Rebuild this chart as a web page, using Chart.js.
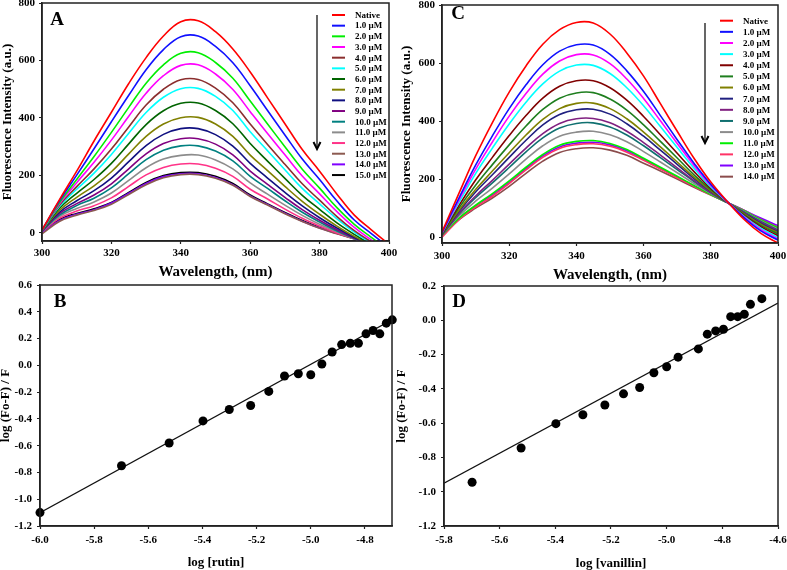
<!DOCTYPE html>
<html>
<head>
<meta charset="utf-8">
<script src="https://cdn.jsdelivr.net/npm/chart.js@4.4.1/dist/chart.umd.min.js"></script>
<style>
  html, body { margin: 0; padding: 0; background: #fff; overflow: hidden; }
  body { width: 787px; height: 570px; position: relative; }
  canvas { position: absolute; }
</style>
</head>
<body>
<canvas id="chartA" width="410" height="300" style="left:0px;top:-10px"></canvas>
<canvas id="chartC" width="400" height="300" style="left:399px;top:-10px"></canvas>
<canvas id="chartB" width="420" height="310" style="left:-2px;top:270px"></canvas>
<canvas id="chartD" width="410" height="310" style="left:394px;top:271px"></canvas>
<script>
// wavelength grid (nm) shared by both spectra panels
const wavelengths = [300,305,310,315,320,325,330,335,340,345,350,355,360,365,370,375,380,385,390,395,400];

// panel A : rutin quenching spectra
const labelsA = ['Native','1.0 \u00b5M','2.0 \u00b5M','3.0 \u00b5M','4.0 \u00b5M','5.0 \u00b5M','6.0 \u00b5M','7.0 \u00b5M',
                 '8.0 \u00b5M','9.0 \u00b5M','10.0 \u00b5M','11.0 \u00b5M','12.0 \u00b5M','13.0 \u00b5M','14.0 \u00b5M','15.0 \u00b5M'];
const A_native = [10,115,215,320,420,520,610,685,735,738,700,640,560,470,380,290,215,135,62,10,-40];
const A_1uM  = [10,111,201,293,387,479,568,638,683,685,649,592,512,426,341,257,186,111,45,-3,-51];
const A_2uM  = [10,105,186,266,350,437,521,585,625,627,593,538,459,379,300,222,156,88,30,-16,-61];
const A_3uM  = [10,101,175,246,323,406,486,547,583,585,553,499,422,346,272,198,136,74,19,-25,-66];
const A_4uM  = [10,96,161,223,292,369,445,500,533,534,504,453,379,308,239,171,114,57,8,-32,-71];
const A_5uM  = [9,92,152,208,273,347,419,472,502,503,475,426,352,286,220,155,101,49,3,-36,-73];
const A_6uM  = [9,85,138,186,242,310,377,425,451,452,426,380,311,250,190,131,82,35,-5,-41,-75];
const A_7uM  = [8,78,124,164,213,275,336,379,401,402,379,336,271,217,162,110,65,24,-12,-44,-75];
const A_8uM  = [8,72,112,147,191,248,304,343,363,363,342,302,242,191,141,94,53,17,-15,-45,-73];
const A_9uM  = [7,67,102,132,171,223,275,311,328,328,309,272,215,169,124,81,44,11,-18,-45,-71];
const A_10uM = [7,62,95,121,157,206,255,288,303,303,285,251,197,155,112,72,38,7,-19,-44,-68];
const A_11uM = [6,57,85,108,139,183,227,257,270,271,254,223,174,135,97,61,30,4,-20,-43,-64];
const A_12uM = [6,51,76,95,122,162,202,228,240,240,225,197,152,118,83,51,24,0,-20,-41,-60];
const A_13uM = [-3,40,62,78,100,134,168,192,203,203,190,166,127,97,67,40,16,-3,-21,-38,-54];
const A_14uM = [2,43,65,81,104,138,172,196,206,206,193,168,129,99,69,41,17,-2,-20,-37,-54];
const A_15uM = [5,47,68,84,106,141,176,200,210,210,197,172,132,101,71,43,19,-1,-19,-36,-54];
const seriesA = [A_native,A_1uM,A_2uM,A_3uM,A_4uM,A_5uM,A_6uM,A_7uM,A_8uM,A_9uM,A_10uM,A_11uM,A_12uM,A_13uM,A_14uM,A_15uM];

// panel C : vanillin quenching spectra
const labelsC = ['Native','1.0 \u00b5M','2.0 \u00b5M','3.0 \u00b5M','4.0 \u00b5M','5.0 \u00b5M','6.0 \u00b5M','7.0 \u00b5M',
                 '8.0 \u00b5M','9.0 \u00b5M','10.0 \u00b5M','11.0 \u00b5M','12.0 \u00b5M','13.0 \u00b5M','14.0 \u00b5M'];
const C_native = [18,150,280,395,500,590,665,715,740,738,700,635,555,460,365,272,190,122,60,12,-20];
const C_1uM  = [16,134,248,349,443,525,594,641,663,662,630,573,502,419,336,255,182,122,66,21,-10];
const C_2uM  = [15,127,234,328,417,495,562,607,629,628,598,545,478,401,323,247,178,121,68,25,-6];
const C_3uM  = [14,119,219,307,390,465,528,572,593,592,564,515,453,381,309,238,173,121,71,30,-1];
const C_4uM  = [12,108,197,275,350,419,479,520,539,539,515,472,416,353,289,226,168,120,74,35,5];
const C_5uM  = [11,100,179,250,318,383,440,479,497,498,476,438,387,330,273,215,164,120,77,40,11];
const C_6uM  = [10,92,164,228,291,352,406,443,461,462,443,408,362,311,259,207,160,120,80,44,15];
const C_7uM  = [9,88,156,215,275,334,387,423,439,441,424,391,348,300,251,202,158,119,82,47,18];
const C_8uM  = [8,81,142,196,252,307,357,392,408,409,394,365,326,283,239,195,154,119,84,51,22];
const C_9uM  = [8,78,136,187,240,294,342,376,392,394,380,352,315,274,233,192,153,119,86,53,24];
const C_10uM = [7,72,124,169,218,269,315,348,362,365,353,329,295,259,222,185,150,119,88,56,28];
const C_11uM = [6,65,110,150,194,241,285,317,330,333,323,302,272,241,210,178,147,119,90,59,32];
const C_12uM = [0,60,104,141,185,232,275,306,319,322,313,293,265,235,205,175,146,119,91,60,33];
const C_13uM = [6,64,108,146,189,236,280,311,324,327,318,298,268,238,207,176,147,119,92,65,40];
const C_14uM = [5,60,100,135,175,220,262,292,305,308,300,282,255,228,200,172,145,119,92,62,35];
const seriesC = [C_native,C_1uM,C_2uM,C_3uM,C_4uM,C_5uM,C_6uM,C_7uM,C_8uM,C_9uM,C_10uM,C_11uM,C_12uM,C_13uM,C_14uM];

// panel B : double log plot, rutin
const logRutin    = [-6.0,-5.699,-5.523,-5.398,-5.301,-5.222,-5.155,-5.097,-5.046,-5.0,-4.959,-4.921,-4.886,-4.854,-4.824,-4.796,-4.770,-4.745,-4.721,-4.699];
const quenchRutin = [-1.10,-0.75,-0.58,-0.415,-0.33,-0.30,-0.195,-0.08,-0.063,-0.07,0.01,0.10,0.155,0.165,0.165,0.235,0.26,0.235,0.315,0.34];
const fitRutinX = [-6.0,-4.70];
const fitRutinY = [-1.10,0.34];

// panel D : double log plot, vanillin
const logVanillin    = [-5.699,-5.523,-5.398,-5.301,-5.222,-5.155,-5.097,-5.046,-5.0,-4.959,-4.886,-4.854,-4.824,-4.796,-4.770,-4.745,-4.721,-4.699,-4.658];
const quenchVanillin = [-0.945,-0.745,-0.603,-0.551,-0.494,-0.429,-0.392,-0.306,-0.271,-0.215,-0.167,-0.081,-0.062,-0.052,0.021,0.021,0.035,0.093,0.126];
const fitVanillinX = [-5.8,-4.6];
const fitVanillinY = [-0.95,0.10];

// tick labels
const ticksWave = [300,320,340,360,380,400];
const ticksIntensity = [0,200,400,600,800];
const ticksRutinX = [-6.0,-5.8,-5.6,-5.4,-5.2,-5.0,-4.8];
const ticksRutinY = [-1.2,-1.0,-0.8,-0.6,-0.4,-0.2,0.0,0.2,0.4,0.6];
const ticksVanX = [-5.8,-5.6,-5.4,-5.2,-5.0,-4.8,-4.6];
const ticksVanY = [-1.2,-1.0,-0.8,-0.6,-0.4,-0.2,0.0,0.2];

const colorsA = ['#ff0000','#1010ff','#00ee00','#ff00ff','#8b2e2e','#00ffff','#006400','#808000',
                 '#101080','#800080','#008080','#8c8c8c','#ff3388','#8c5a50','#8000ff','#000000'];
const colorsC = ['#ff0000','#1010ff','#ff00ff','#00ffff','#800000','#1e7e1e','#808000','#202080',
                 '#802080','#107070','#8c8c8c','#00ee00','#ff3366','#8000ff','#8b4c4c'];

const serif = 'Liberation Serif, Times New Roman, serif';

function toPoints(xs, ys) {
    return xs.map((x, i) => ({ x: x, y: ys[i] }));
}

function makeScale(min, max, tickVals, decimals, titleText, titleSize, titlePad, tickPad, fitSize, isX) {
    return {
        type: 'linear',
        min: min,
        max: max,
        afterBuildTicks: s => { s.ticks = tickVals.map(v => ({ value: v })); },
        afterFit: s => { if (isX) s.height = fitSize; else s.width = fitSize; },
        grid: { drawOnChartArea: false, drawTicks: true, tickLength: 3, tickWidth: 1.2, color: '#222' },
        border: { display: true, color: '#222', width: 1.5 },
        ticks: {
            font: { family: serif, size: 11, weight: 'bold' },
            color: '#000', padding: tickPad, maxRotation: 0, autoSkip: false,
            callback: v => Number(v).toFixed(decimals)
        },
        title: {
            display: true, text: titleText, color: '#000',
            font: { family: serif, size: titleSize, weight: 'bold' },
            padding: isX ? { top: 0, bottom: titlePad } : { top: titlePad, bottom: 0 }
        }
    };
}

// frame, panel letter, legend and arrow drawn on top of the chart area
const panelDecor = {
    id: 'panelDecor',
    afterDraw(chart, args, opts) {
        const ctx = chart.ctx;
        const a = chart.chartArea;
        ctx.save();
        ctx.strokeStyle = '#222';
        ctx.lineWidth = 1.5;
        ctx.strokeRect(a.left, a.top, a.right - a.left, a.bottom - a.top);

        ctx.fillStyle = '#000';
        ctx.font = 'bold 19px ' + serif;
        ctx.textAlign = 'center';
        ctx.textBaseline = 'alphabetic';
        ctx.fillText(opts.letter, a.left + opts.letterX, a.top + opts.letterY + 6.5);

        if (opts.legend) {
            const lg = opts.legend;
            ctx.font = 'bold 9px ' + serif;
            ctx.textAlign = 'left';
            ctx.textBaseline = 'middle';
            chart.data.datasets.forEach((ds, i) => {
                const y = a.top + lg.y + i * lg.step;
                ctx.strokeStyle = ds.borderColor;
                ctx.lineWidth = 2;
                ctx.beginPath();
                ctx.moveTo(a.left + lg.x1, y);
                ctx.lineTo(a.left + lg.x2, y);
                ctx.stroke();
                ctx.fillStyle = '#000';
                ctx.fillText(ds.label, a.left + lg.tx, y + 0.5);
            });
        }

        if (opts.arrow) {
            const ar = opts.arrow;
            const x = a.left + ar.x;
            const y1 = a.top + ar.y1;
            const y2 = a.top + ar.y2;
            ctx.strokeStyle = '#000';
            ctx.lineWidth = 1.2;
            ctx.beginPath();
            ctx.moveTo(x, y1);
            ctx.lineTo(x, y2);
            ctx.stroke();
            ctx.lineWidth = 2;
            ctx.beginPath();
            ctx.moveTo(x - 3.5, y2 - 7);
            ctx.lineTo(x, y2);
            ctx.lineTo(x + 3.5, y2 - 7);
            ctx.stroke();
        }
        ctx.restore();
    }
};

function spectraChart(id, series, labels, colors, yMin, pad, yFit, xFit, xTitlePad, xTickPad, decor) {
    const datasets = series.map((vals, i) => ({
        label: labels[i],
        data: toPoints(wavelengths, vals),
        borderColor: colors[i],
        borderWidth: 1.6,
        pointRadius: 0,
        tension: 0.4,
        fill: false
    }));
    return new Chart(document.getElementById(id), {
        type: 'line',
        data: { datasets: datasets },
        options: {
            responsive: false,
            animation: false,
            events: [],
            layout: { padding: pad },
            plugins: { legend: { display: false }, tooltip: { enabled: false }, panelDecor: decor },
            scales: {
                x: makeScale(300, 400, ticksWave, 0, 'Wavelength, (nm)', 15, xTitlePad, xTickPad, xFit, true),
                y: makeScale(yMin, 800, ticksIntensity, 0, 'Fluorescence Intensity (a.u.)', 13, 0, 4, yFit, false)
            }
        },
        plugins: [panelDecor]
    });
}

function logChart(id, xs, ys, fitX, fitY, xMin, xMax, yMax, xTicks, yTicks, xTitle, pad, yFit, xFit, decor) {
    return new Chart(document.getElementById(id), {
        type: 'scatter',
        data: {
            datasets: [
                {
                    label: 'data',
                    data: toPoints(xs, ys),
                    backgroundColor: '#000',
                    borderWidth: 0,
                    pointRadius: 4.5,
                    clip: false,
                    order: 0
                },
                {
                    type: 'line',
                    label: 'fit',
                    data: toPoints(fitX, fitY),
                    borderColor: '#111',
                    borderWidth: 1.2,
                    pointRadius: 0,
                    fill: false,
                    order: 1
                }
            ]
        },
        options: {
            responsive: false,
            animation: false,
            events: [],
            layout: { padding: pad },
            plugins: { legend: { display: false }, tooltip: { enabled: false }, panelDecor: decor },
            scales: {
                x: makeScale(xMin, xMax, xTicks, 1, xTitle, 13, 10, 5, xFit, true),
                y: makeScale(-1.2, yMax, yTicks, 1, 'log (Fo-F) / F', 13, 0, 5, yFit, false)
            }
        },
        plugins: [panelDecor]
    });
}

spectraChart('chartA', seriesA, labelsA, colorsA, -28,
    { top: 13, right: 21, bottom: 0, left: 0 }, 42, 49, 9, 3,
    { letter: 'A', letterX: 15, letterY: 15.5,
      legend: { x1: 290, x2: 303, tx: 313, y: 12, step: 10.67 },
      arrow: { x: 275, y1: 12, y2: 146 } });

spectraChart('chartC', seriesC, labelsC, colorsC, -20,
    { top: 15, right: 21, bottom: 0, left: 0 }, 43, 47, 6, 4,
    { letter: 'C', letterX: 16, letterY: 7.3,
      legend: { x1: 278, x2: 291, tx: 301, y: 15.7, step: 11.14 },
      arrow: { x: 263, y1: 18, y2: 138 } });

logChart('chartB', logRutin, quenchRutin, fitRutinX, fitRutinY, -6.0, -4.70, 0.6,
    ticksRutinX, ticksRutinY, 'log [rutin]',
    { top: 15, right: 26, bottom: 0, left: 0 }, 42, 54,
    { letter: 'B', letterX: 20, letterY: 15 });

logChart('chartD', logVanillin, quenchVanillin, fitVanillinX, fitVanillinY, -5.8, -4.6, 0.2,
    ticksVanX, ticksVanY, 'log [vanillin]',
    { top: 15, right: 26, bottom: 0, left: 0 }, 50, 55,
    { letter: 'D', letterX: 15, letterY: 14 });
</script>
</body>
</html>
